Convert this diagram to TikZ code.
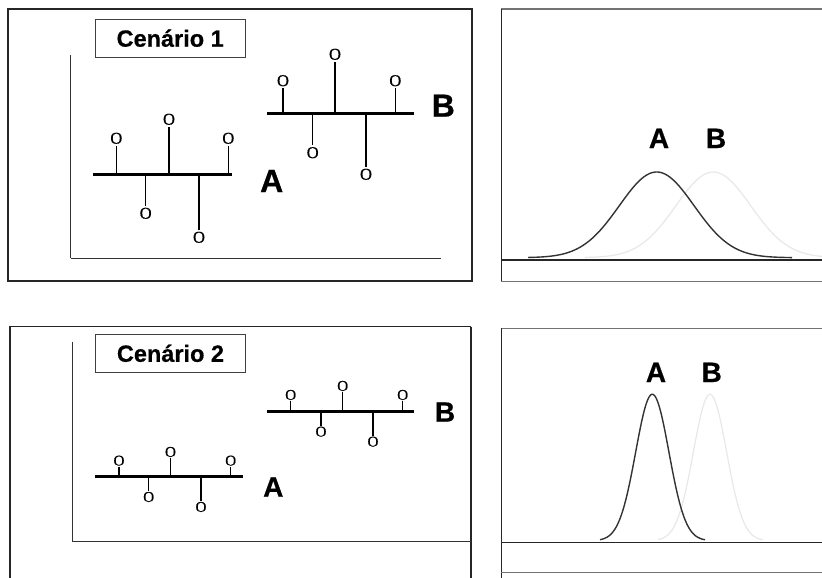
\documentclass[tikz,border=0pt]{standalone}
\usepackage{fontspec}
\setmainfont{Liberation Sans}
\newfontfamily\heavyfont{Liberation Sans Bold}[FakeBold=0.6]
\newfontfamily\atomfont{Liberation Serif}[FakeBold=0.6]

\tikzset{
  frame/.style={draw=black!85, line width=1.5pt},
  thinframe/.style={draw=black!55, line width=1.2pt},
  axisline/.style={draw=black!80, line width=1pt},
  titlebox/.style={draw=black!75, line width=1pt, inner sep=0pt,
    minimum width=149.7pt, minimum height=38.3pt,
    text height=17pt, text depth=0pt,
    font=\fontsize{23.5}{28}\selectfont\heavyfont},
  chain/.style={line width=3pt},
  bond/.style={line width=1.3pt},
  oatom/.style={font=\fontsize{16.5}{18}\selectfont\atomfont, inner sep=0pt},
  smallatom/.style={oatom, font=\fontsize{15}{17}\selectfont\atomfont},
  bigtag/.style={anchor=base, inner sep=0pt, font=\fontsize{32}{36}\selectfont\heavyfont},
  midtag/.style={anchor=base, inner sep=0pt, font=\fontsize{28}{32}\selectfont\heavyfont},
  curveA/.style={draw=black!80, line width=1.4pt, smooth},
  curveB/.style={draw=black!9, line width=1.2pt, smooth},
}

\begin{document}
\begin{tikzpicture}[x=1pt, y=-1pt]
\useasboundingbox (0,0) rectangle (822,578);
\clip (0,0) rectangle (822,578);
\fill[white] (0,0) rectangle (822,578);

% ---------- Cenario 1: molecules ----------
\draw[frame] (8,9) rectangle (472,281);
\node[titlebox] (t1) at (170.2,38.2) {Cenário 1};
\coordinate (ax1top) at (70.7,55);
\coordinate (ax1org) at (70.7,258.3);
\coordinate (ax1end) at (441,258.3);
\draw[axisline] (ax1top) -- (ax1org);
\draw[axisline] (ax1org) -- (ax1end);

\begin{scope}[oatom/.append style={outer sep=2pt}]
  % chain A
  \coordinate (taL) at (93.3,174);
  \coordinate (taR) at (231.7,174);
  \draw[chain] (taL) -- (taR);
  \node[oatom] (ta1) at (116.3,138.3) {O};
  \node[oatom] (ta2) at (169,119.3) {O};
  \node[oatom] (ta3) at (228.3,138.3) {O};
  \node[oatom] (ta4) at (145.7,213.3) {O};
  \node[oatom] (ta5) at (199,237.3) {O};
  \draw[bond] (ta1 |- taL) -- (ta1.south);
  \draw[bond] (ta2 |- taL) -- (ta2.south);
  \draw[bond] (ta3 |- taL) -- (ta3.south);
  \draw[bond] (ta4 |- taL) -- (ta4.north);
  \draw[bond] (ta5 |- taL) -- (ta5.north);
  \node[bigtag] (taLab) at (271.7,192) {A};
  % chain B
  \coordinate (tbL) at (267.3,113.3);
  \coordinate (tbR) at (414.3,113.3);
  \draw[chain] (tbL) -- (tbR);
  \node[oatom] (tb1) at (283,80.7) {O};
  \node[oatom] (tb2) at (335,54.3) {O};
  \node[oatom] (tb3) at (395.3,80.7) {O};
  \node[oatom] (tb4) at (312.7,152.7) {O};
  \node[oatom] (tb5) at (366,174.3) {O};
  \draw[bond] (tb1 |- tbL) -- (tb1.south);
  \draw[bond] (tb2 |- tbL) -- (tb2.south);
  \draw[bond] (tb3 |- tbL) -- (tb3.south);
  \draw[bond] (tb4 |- tbL) -- (tb4.north);
  \draw[bond] (tb5 |- tbL) -- (tb5.north);
  \node[bigtag] (tbLab) at (443.3,116.7) {B};
\end{scope}

% ---------- Cenario 1: distributions ----------
\draw[curveB] plot[domain=585:822, samples=120]
  (\x, {257.7 - 85.7*exp(-0.5*((\x-713.3)/37.4)^2)});
\draw[curveA] plot[domain=528:792, samples=140]
  (\x, {257.7 - 85.7*exp(-0.5*((\x-656.7)/37.4)^2)});
\draw[thinframe] (501.3,9) -- (830,9);
\draw[frame, line width=1.3pt] (501.3,9) -- (501.3,281.7);
\draw[thinframe] (501.3,281.7) -- (830,281.7);
\draw[frame, line width=1.3pt] (501.3,260) -- (830,260);
\node[midtag] (rA1) at (659,148) {A};
\node[midtag] (rB1) at (716,148) {B};

% ---------- Cenario 2: molecules ----------
\draw[frame] (10,590) -- (10,326.7) -- (471,326.7);
\draw[frame, line width=2pt] (471,326.7) -- (471,590);
\node[titlebox] (t2) at (170.5,353.3) {Cenário 2};
\coordinate (ax2top) at (72.3,341.7);
\coordinate (ax2org) at (72.3,541);
\coordinate (ax2end) at (471,541);
\draw[axisline] (ax2top) -- (ax2org);
\draw[axisline] (ax2org) -- (ax2end);

\begin{scope}[smallatom/.append style={outer sep=1pt}]
  % chain A
  \coordinate (baL) at (95,476.7);
  \coordinate (baR) at (243,476.7);
  \draw[chain] (baL) -- (baR);
  \node[smallatom] (ba1) at (119,460.7) {O};
  \node[smallatom] (ba2) at (170.5,452) {O};
  \node[smallatom] (ba3) at (230.7,460.7) {O};
  \node[smallatom] (ba4) at (148.7,497) {O};
  \node[smallatom] (ba5) at (201,507) {O};
  \draw[bond] (ba1 |- baL) -- (ba1.south);
  \draw[bond] (ba2 |- baL) -- (ba2.south);
  \draw[bond] (ba3 |- baL) -- (ba3.south);
  \draw[bond] (ba4 |- baL) -- (ba4.north);
  \draw[bond] (ba5 |- baL) -- (ba5.north);
  \node[midtag] (baLab) at (273.3,496.7) {A};
  % chain B
  \coordinate (bbL) at (267,411.3);
  \coordinate (bbR) at (414.3,411.3);
  \draw[chain] (bbL) -- (bbR);
  \node[smallatom] (bb1) at (290.7,395) {O};
  \node[smallatom] (bb2) at (342.7,386) {O};
  \node[smallatom] (bb3) at (402.7,395) {O};
  \node[smallatom] (bb4) at (321,431.7) {O};
  \node[smallatom] (bb5) at (373,441.7) {O};
  \draw[bond] (bb1 |- bbL) -- (bb1.south);
  \draw[bond] (bb2 |- bbL) -- (bb2.south);
  \draw[bond] (bb3 |- bbL) -- (bb3.south);
  \draw[bond] (bb4 |- bbL) -- (bb4.north);
  \draw[bond] (bb5 |- bbL) -- (bb5.north);
  \node[midtag] (bbLab) at (445,421.7) {B};
\end{scope}

% ---------- Cenario 2: distributions ----------
\draw[curveB] plot[domain=658:763, samples=100]
  (\x, {540.7 - 146.4*exp(-0.5*((\x-710)/16.6)^2)});
\draw[curveA] plot[domain=600:705, samples=100]
  (\x, {540.7 - 146.4*exp(-0.5*((\x-652.3)/16.6)^2)});
\draw[thinframe] (501.3,328.3) -- (830,328.3);
\draw[frame, line width=1.3pt] (501.3,328.3) -- (501.3,590);
\draw[thinframe] (501.3,572.7) -- (830,572.7);
\draw[frame, line width=1.3pt] (501.3,542.7) -- (830,542.7);
\node[midtag] (rA2) at (656,382) {A};
\node[midtag] (rB2) at (711.7,382) {B};
\end{tikzpicture}
\end{document}
